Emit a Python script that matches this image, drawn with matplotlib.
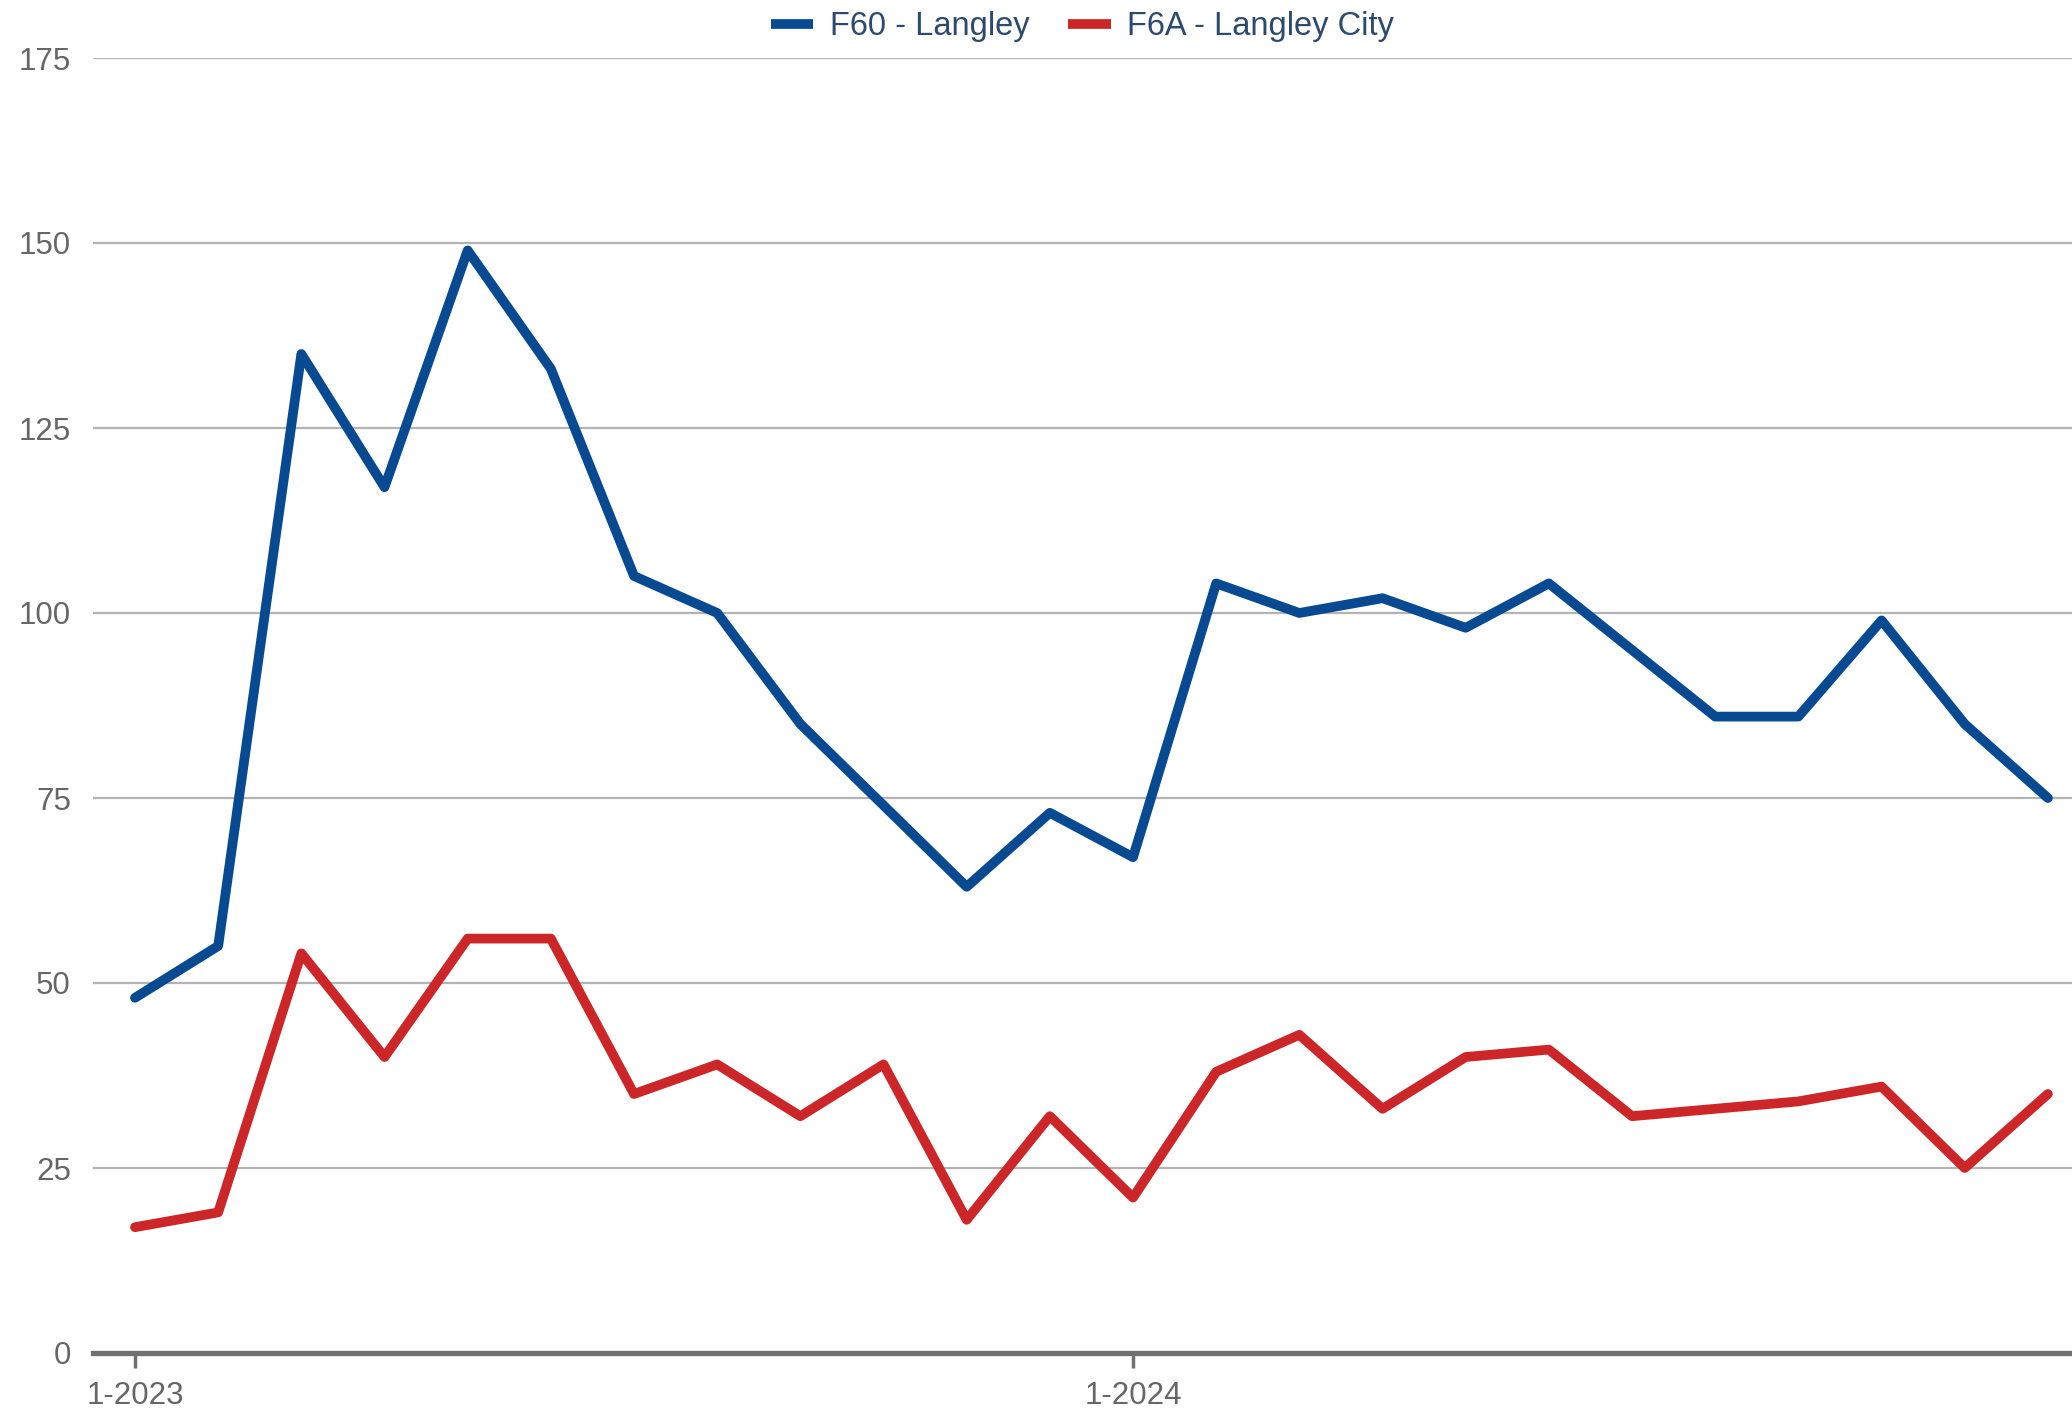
import matplotlib.pyplot as plt

# months Jan 2023 .. Dec 2024
months = list(range(24))
tick_pos = [0, 12]
tick_labels = ["1-2023", "1-2024"]

f60_langley = [48, 55, 135, 117, 149, 133, 105, 100, 85, 74, 63, 73,
               67, 104, 100, 102, 98, 104, 95, 86, 86, 99, 85, 75]
f6a_langley_city = [17, 19, 54, 40, 56, 56, 35, 39, 32, 39, 18, 32,
                    21, 38, 43, 33, 40, 41, 32, 33, 34, 36, 25, 35]

plt.rcParams['font.family'] = ['Liberation Sans', 'DejaVu Sans']

W, H = 2072, 1411
fig = plt.figure(figsize=(W / 100, H / 100), dpi=100)
left, bottom, top = 93 / W, 58 / H, 1 - 58 / H
ax = fig.add_axes([left, bottom, 1 - left, top - bottom])

ax.plot(months, f60_langley, color='#074a92', lw=7, solid_joinstyle='round',
        solid_capstyle='round', label='F60 - Langley', zorder=3)
ax.plot(months, f6a_langley_city, color='#cc2629', lw=7, solid_joinstyle='round',
        solid_capstyle='round', label='F6A - Langley City', zorder=3)

ax.set_ylim(0, 175)
ax.set_xlim(-0.505, 23.29)
ax.set_yticks([0, 25, 50, 75, 100, 125, 150, 175])
ax.yaxis.grid(True, color='#b3b3b3', lw=1.6)
ax.set_axisbelow(True)
for s in ['top', 'right', 'left']:
    ax.spines[s].set_visible(False)
ax.spines['bottom'].set_color('#707070')
ax.spines['bottom'].set_linewidth(3.8)
ax.spines['bottom'].set_zorder(4)
ax.tick_params(axis='y', length=0, pad=16, labelsize=22.5, labelcolor='#666666')
ax.set_xticks(tick_pos)
ax.set_xticklabels(tick_labels, fontsize=22.5, color='#666666')
ax.tick_params(axis='x', length=11, width=2.5, color='#707070', pad=9)

leg = ax.legend(loc='center', bbox_to_anchor=(0.5, 1 + 31 / 1295), ncol=2,
                frameon=False, fontsize=23.5, handlelength=1.3, handletextpad=0.5,
                columnspacing=1.2)
for t in leg.get_texts():
    t.set_color('#2c4a6e')
for h in leg.get_lines():
    h.set_linewidth(7)
    h.set_solid_capstyle('butt')

fig.savefig('out.png', dpi=100)
